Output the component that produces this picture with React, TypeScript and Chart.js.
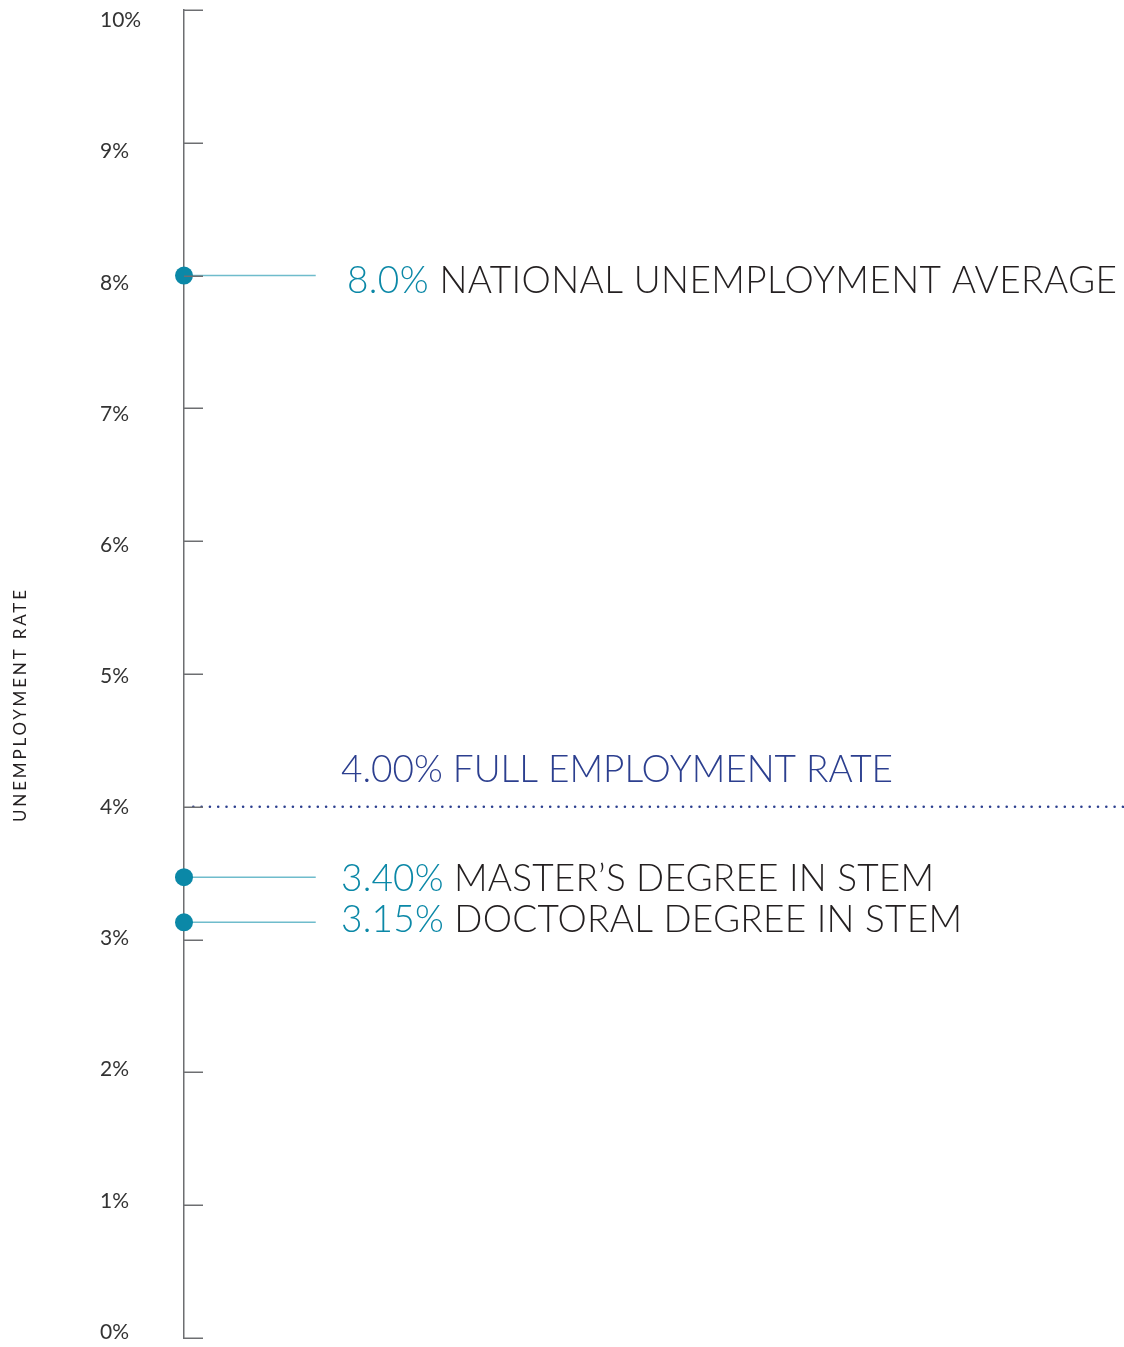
import React, { useEffect, useRef } from "react";
import { Chart, registerables } from "chart.js";

Chart.register(...registerables);

// ---- data ----
const seriesNames = ["NATIONAL UNEMPLOYMENT AVERAGE", "MASTER\u2019S DEGREE IN STEM", "DOCTORAL DEGREE IN STEM"];
const seriesValueLabels = ["8.0%", "3.40%", "3.15%"];
const seriesValues = [8.0, 3.47, 3.13];
const thresholdValue = 4.0;
const thresholdLabel = "4.00% FULL EMPLOYMENT RATE";
const yTickValues = [0, 1, 2, 3, 4, 5, 6, 7, 8, 9, 10];
const yTickLabels = ["0%", "1%", "2%", "3%", "4%", "5%", "6%", "7%", "8%", "9%", "10%"];
const axisTitle = "UNEMPLOYMENT RATE";

// ---- layout / style ----
const W = 1124;
const H = 1347;
const TEAL = "#0b88a7";
const TEAL_LIGHT = "#6fbccc";
const BLUE = "#2c3f8f";
const DARK = "#231f20";
const AXIS = "#6d6e71";
const CONNECTOR_END = 14.15;
const labelLayout = [
  { x: 347, width: 770, dy: 17 },
  { x: 341, width: 593, dy: 13.6 },
  { x: 341, width: 621, dy: 10 },
];
const thresholdLayout = { x: 341, width: 552, dy: -24.7 };
const BIG_FONT = "300 37px Lato";

function drawSpaced(ctx: CanvasRenderingContext2D, parts: { text: string; color: string }[], x: number, y: number, target: number) {
  (ctx as any).letterSpacing = "0px";
  const full = parts.map((p) => p.text).join(" ");
  const natural = ctx.measureText(full).width;
  const s = (target - natural) / (full.length - 1);
  let cx = x;
  parts.forEach((p, i) => {
    (ctx as any).letterSpacing = `${s}px`;
    ctx.fillStyle = p.color;
    ctx.fillText(p.text, cx, y);
    (ctx as any).letterSpacing = "0px";
    const seg = i < parts.length - 1 ? p.text + " " : p.text;
    cx += ctx.measureText(seg).width + seg.length * s;
  });
  (ctx as any).letterSpacing = "0px";
}

const overlayPlugin = {
  id: "overlay",
  afterDatasetsDraw(chart: any) {
    const ctx: CanvasRenderingContext2D = chart.ctx;
    const y = chart.scales.y;
    const y2 = chart.scales.y2;
    const left = chart.chartArea.left;
    ctx.save();
    // tick marks (to the right of axis)
    ctx.strokeStyle = AXIS;
    ctx.lineWidth = 1.5;
    yTickValues.forEach((v) => {
      const py = Math.round(y.getPixelForValue(v)) + 0.25;
      ctx.beginPath();
      ctx.moveTo(left, py);
      ctx.lineTo(left + 19, py);
      ctx.stroke();
    });
    // tick labels
    ctx.font = "400 21px Lato";
    ctx.fillStyle = "#333333";
    ctx.textAlign = "left";
    ctx.textBaseline = "middle";
    yTickValues.forEach((v, i) => {
      ctx.fillText(yTickLabels[i], 100, y2.getPixelForValue(v) + 1);
    });
    // axis title
    ctx.save();
    ctx.translate(21, 706);
    ctx.rotate(-Math.PI / 2);
    ctx.font = "400 17px Lato";
    ctx.textAlign = "left";
    ctx.textBaseline = "middle";
    (ctx as any).letterSpacing = "0px";
    const nat = ctx.measureText(axisTitle).width;
    const s = (232 - nat) / (axisTitle.length - 1);
    (ctx as any).letterSpacing = `${s}px`;
    ctx.fillStyle = DARK;
    ctx.fillText(axisTitle, -116, 0);
    (ctx as any).letterSpacing = "0px";
    ctx.restore();
    // big labels
    ctx.font = BIG_FONT;
    ctx.textAlign = "left";
    ctx.textBaseline = "alphabetic";
    seriesValues.forEach((v, i) => {
      const L = labelLayout[i];
      const py = y.getPixelForValue(v) + L.dy;
      drawSpaced(ctx, [
        { text: seriesValueLabels[i], color: TEAL },
        { text: seriesNames[i], color: DARK },
      ], L.x, py, L.width);
    });
    drawSpaced(ctx, [{ text: thresholdLabel, color: BLUE }], thresholdLayout.x, y.getPixelForValue(thresholdValue) + thresholdLayout.dy, thresholdLayout.width);
    ctx.restore();
  },
};

export default function App() {
  const ref = useRef<HTMLCanvasElement | null>(null);
  useEffect(() => {
    if (!ref.current) return;
    const dots = {
      type: "scatter" as const,
      label: "dots",
      data: seriesValues.map((v) => ({ x: 0, y: v })),
      backgroundColor: TEAL,
      borderWidth: 0,
      pointRadius: 9,
      pointHoverRadius: 9,
      clip: false as any,
    };
    const connectors = seriesValues.map((v, i) => ({
      type: "line" as const,
      label: "c" + i,
      data: [{ x: 0, y: v }, { x: CONNECTOR_END, y: v }],
      borderColor: TEAL_LIGHT,
      borderWidth: 1.5,
      pointRadius: 0,
      clip: false as any,
    }));
    const threshold = {
      type: "line" as const,
      label: "threshold",
      data: [{ x: 1, y: thresholdValue }, { x: 101, y: thresholdValue }],
      borderColor: BLUE,
      borderWidth: 2.6,
      borderDash: [0, 8.3],
      borderCapStyle: "round" as const,
      pointRadius: 0,
      clip: false as any,
    };
    const chart = new Chart(ref.current, {
      type: "scatter",
      data: { datasets: [dots, ...connectors, threshold] as any },
      options: {
        animation: false,
        responsive: false,
        devicePixelRatio: 1,
        layout: { padding: { left: 184, top: 10, right: 0, bottom: 7 } },
        plugins: { legend: { display: false }, tooltip: { enabled: false } },
        scales: {
          x: { type: "linear", display: false, min: 0, max: 100 },
          y: {
            type: "linear",
            min: 0,
            max: 10,
            position: "left",
            ticks: { display: false, stepSize: 1 },
            grid: { display: false, drawTicks: false },
            border: { display: true, color: AXIS, width: 1.5 },
          },
          y2: {
            type: "linear",
            display: false,
            min: -0.053,
            max: 10.072,
          },
        },
      },
      plugins: [overlayPlugin],
    });
    return () => chart.destroy();
  }, []);
  return (
    <div style={{ position: "absolute", left: 0, top: 0, width: W, height: H, background: "#fff" }}>
      <canvas ref={ref} width={W} height={H} style={{ width: W, height: H, display: "block" }} />
    </div>
  );
}
